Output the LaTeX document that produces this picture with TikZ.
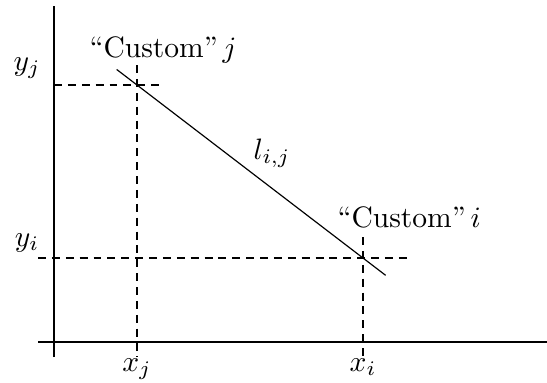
\documentclass[tikz,border=0pt]{standalone}
\usetikzlibrary{calc}
\begin{document}
\begin{tikzpicture}[x=0.0119cm,y=-0.0119cm,
  axe/.style={semithick},
  repere/.style={dash pattern=on 2.7pt off 2pt}]
\useasboundingbox (0,0) rectangle (547,382);

% Axes
\coordinate (yhaut) at (54,6);
\coordinate (ybas) at (54,357);
\coordinate (xgauche) at (38,342);
\coordinate (xdroite) at (547,342);

\draw[axe]
(ybas)
--
(yhaut);

\draw[axe]
(xgauche)
--
(xdroite);

% Points j et i
\coordinate (pj) at (137,85);
\coordinate (pi) at (363,258);

% Repères en pointillés
\coordinate (yjaxe) at (54,85);
\coordinate (yjfin) at (160,85);
\coordinate (xjhaut) at (137,65);
\coordinate (xjbas) at (137,357);
\coordinate (yiaxe) at (38,258);
\coordinate (yifin) at (407,258);
\coordinate (xihaut) at (363,237);
\coordinate (xibas) at (363,357);

\draw[repere] (yjaxe) -- (yjfin);
\draw[repere] (xjhaut) -- (xjbas);
\draw[repere] (yiaxe) -- (yifin);
\draw[repere] (xihaut) -- (xibas);

% Segment l_{i,j}
\draw
($(pj)!-0.09!(pi)$)
--
($(pi)!-0.10!(pj)$);

% Légendes
\node[anchor=base] (lyj) at (27,70) {$y_j$};
\node[anchor=base] (lyi) at (27,246) {$y_i$};
\node[anchor=base] (lxj) at (137,371) {$x_j$};
\node[anchor=base] (lxi) at (363,371) {$x_i$};

\node[anchor=base west,inner sep=0pt] (cj) at (89,57) {``Custom''\,$j$};
\node[anchor=base west,inner sep=0pt] (ci) at (337,227) {``Custom''\,$i$};
\node (lij) at (272,153) {$l_{i,j}$};

\end{tikzpicture}
\end{document}
